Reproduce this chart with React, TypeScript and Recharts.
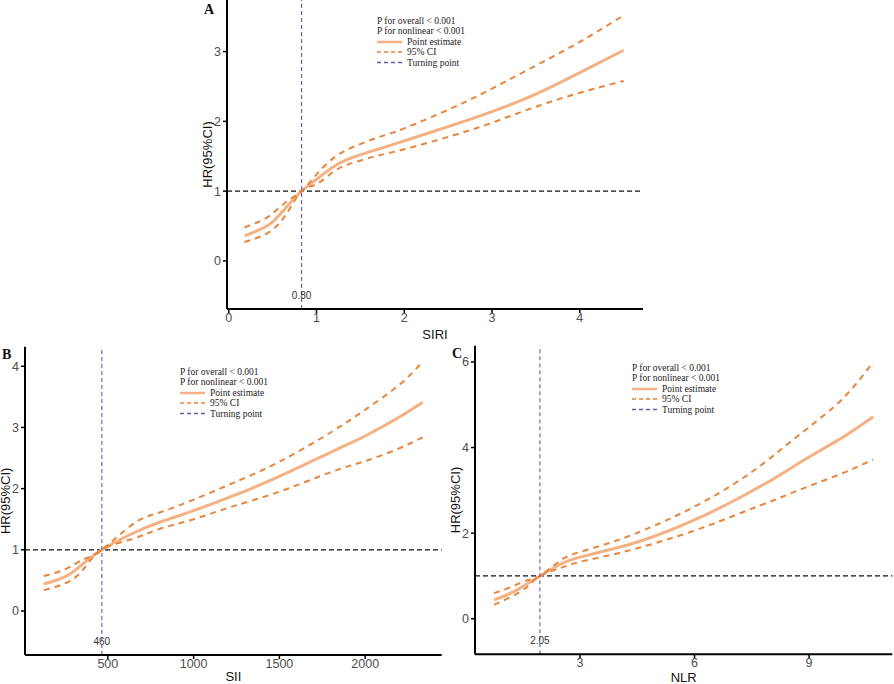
import { LineChart, Line, XAxis, YAxis, ReferenceLine, ReferenceDot } from 'recharts';

const EST_COLOR = '#F4B183';
const CI_COLOR = '#E8853D';
const TURN_COLOR = '#6A5AAE';
const SANS = '"Liberation Sans", Arial, sans-serif';
const SERIF = '"Liberation Serif", "Times New Roman", serif';

// A: SIRI
const siriX = [0.18, 0.3, 0.47, 0.65, 0.83, 1.0, 1.22, 1.45, 1.7, 2.0, 2.56, 3.0, 3.5, 4.0, 4.5];
const siriEst = [0.36, 0.42, 0.53, 0.76, 1.0, 1.17, 1.37, 1.5, 1.6, 1.72, 1.95, 2.14, 2.39, 2.7, 3.02];
const siriUpper = [0.48, 0.54, 0.65, 0.84, 1.0, 1.24, 1.5, 1.65, 1.77, 1.9, 2.2, 2.47, 2.8, 3.14, 3.52];
const siriLower = [0.27, 0.32, 0.42, 0.66, 1.0, 1.1, 1.3, 1.42, 1.51, 1.6, 1.8, 1.98, 2.21, 2.41, 2.58];
const siriXTicks = [0, 1, 2, 3, 4];
const siriYTicks = [0, 1, 2, 3];

// B: SII
const siiX = [127, 258, 354, 465, 646, 801, 1000, 1228, 1500, 1811, 2000, 2200, 2336];
const siiEst = [0.44, 0.57, 0.77, 1.0, 1.27, 1.45, 1.64, 1.88, 2.2, 2.61, 2.86, 3.17, 3.41];
const siiUpper = [0.57, 0.69, 0.84, 1.0, 1.42, 1.61, 1.82, 2.09, 2.44, 2.94, 3.29, 3.7, 4.08];
const siiLower = [0.34, 0.46, 0.67, 1.0, 1.18, 1.34, 1.5, 1.71, 1.95, 2.28, 2.45, 2.66, 2.84];
const siiXTicks = [500, 1000, 1500, 2000];
const siiYTicks = [0, 1, 2, 3, 4];

// C: NLR
const nlrX = [0.75, 1.19, 1.62, 1.95, 2.5, 3.0, 3.8, 4.67, 6.0, 7.29, 8.16, 9.0, 9.9, 10.68];
const nlrEst = [0.44, 0.6, 0.82, 1.0, 1.28, 1.44, 1.62, 1.84, 2.31, 2.88, 3.32, 3.78, 4.25, 4.72];
const nlrUpper = [0.6, 0.74, 0.9, 1.0, 1.37, 1.56, 1.78, 2.07, 2.62, 3.3, 3.88, 4.48, 5.16, 6.0];
const nlrLower = [0.33, 0.51, 0.75, 1.0, 1.19, 1.33, 1.49, 1.69, 2.06, 2.5, 2.8, 3.1, 3.41, 3.72];
const nlrXTicks = [3, 6, 9];
const nlrYTicks = [0, 2, 4, 6];

const legendLines = ['P for overall < 0.001', 'P for nonlinear < 0.001'];
const legendItems = ['Point estimate', '95% CI', 'Turning point'];

const toRows = (xs: number[], est: number[], upper: number[], lower: number[]) =>
	xs.map((x, i) => ({ x, est: est[i], upper: upper[i], lower: lower[i] }));

function PanelLegend({ left, top }: { left: number; top: number }) {
	const ys = [5, 15, 26, 36, 46.5];
	const styles = [
		{ stroke: EST_COLOR, strokeWidth: 2.5, dash: undefined },
		{ stroke: CI_COLOR, strokeWidth: 1.6, dash: '4 3' },
		{ stroke: TURN_COLOR, strokeWidth: 1.4, dash: '4 3' },
	];
	return (
		<svg width={130} height={56} style={{ position: 'absolute', left, top, overflow: 'visible' }}>
			{legendLines.map((t, i) => (
				<text key={t} x={0} y={ys[i]} dominantBaseline="central" fontFamily={SERIF} fontSize={9.5} fill="#222">{t}</text>
			))}
			{legendItems.map((t, i) => (
				<g key={t}>
					<line x1={0} x2={25} y1={ys[i + 2]} y2={ys[i + 2]} stroke={styles[i].stroke} strokeWidth={styles[i].strokeWidth} strokeDasharray={styles[i].dash} />
					<text x={30} y={ys[i + 2]} dominantBaseline="central" fontFamily={SERIF} fontSize={9.5} fill="#222">{t}</text>
				</g>
			))}
		</svg>
	);
}

type TPanel = {
	letter: string;
	letterPos: [number, number];
	rows: Array<{ x: number; est: number; upper: number; lower: number }>;
	xDomain: [number, number];
	yDomain: [number, number];
	xTicks: number[];
	yTicks: number[];
	turn: number;
	turnLabel: string;
	xLabel: string;
	box: { left: number; top: number; width: number; height: number };
	margin: { top: number; right: number; left: number; bottom: number };
	yAxisWidth: number;
	xAxisHeight: number;
	yTitleX: number;
	xTitleY: number;
	legendPos: [number, number];
};

function Panel(p: TPanel) {
	const tickStyle = { fill: '#4D4D4D', fontSize: 12.5, fontFamily: SANS };
	return (
		<div style={{ position: 'absolute', left: p.box.left, top: p.box.top, width: p.box.width, height: p.box.height }}>
			<LineChart width={p.box.width} height={p.box.height} data={p.rows} margin={p.margin}>
				<XAxis
					type="number"
					dataKey="x"
					domain={p.xDomain}
					ticks={p.xTicks}
					interval={0}
					height={p.xAxisHeight}
					tick={tickStyle}
					tickSize={4}
					tickMargin={0}
					axisLine={{ stroke: '#000', strokeWidth: 2 }}
					tickLine={{ stroke: '#000', strokeWidth: 1.5 }}
					label={(lp: any) => {
						const vb = lp.viewBox || {};
						return (
							<text x={vb.x + vb.width / 2} y={p.xTitleY} textAnchor="middle" dominantBaseline="central" fontFamily={SANS} fontSize={13} fill="#111">
								{p.xLabel}
							</text>
						);
					}}
				/>
				<YAxis
					type="number"
					domain={p.yDomain}
					ticks={p.yTicks}
					interval={0}
					width={p.yAxisWidth}
					tick={tickStyle}
					tickSize={4}
					axisLine={{ stroke: '#000', strokeWidth: 2 }}
					tickLine={{ stroke: '#000', strokeWidth: 1.5 }}
					label={(lp: any) => {
						const vb = lp.viewBox || {};
						const cy = vb.y + vb.height / 2;
						return (
							<text x={p.yTitleX} y={cy} transform={`rotate(-90 ${p.yTitleX} ${cy})`} textAnchor="middle" dominantBaseline="central" fontFamily={SANS} fontSize={13} fill="#111">
								HR(95%CI)
							</text>
						);
					}}
				/>
				<ReferenceLine y={1} stroke="#111" strokeWidth={1.3} strokeDasharray="5 3" />
				<Line type="natural" dataKey="est" stroke={EST_COLOR} strokeWidth={3} dot={false} isAnimationActive={false} />
				<Line type="natural" dataKey="upper" stroke={CI_COLOR} strokeWidth={2} strokeDasharray="6 5" dot={false} isAnimationActive={false} />
				<Line type="natural" dataKey="lower" stroke={CI_COLOR} strokeWidth={2} strokeDasharray="6 5" dot={false} isAnimationActive={false} />
				<ReferenceLine x={p.turn} stroke={TURN_COLOR} strokeWidth={1.1} strokeDasharray="4 3" />
				<ReferenceDot
					x={p.turn}
					y={-0.5}
					r={1}
					fill="none"
					stroke="none"
					label={{ value: p.turnLabel, position: 'center', fontSize: 10, fontFamily: SANS, fill: '#333' }}
				/>
			</LineChart>
			<div
				style={{
					position: 'absolute',
					left: p.letterPos[0],
					top: p.letterPos[1],
					fontFamily: SERIF,
					fontWeight: 'bold',
					fontSize: 14,
					lineHeight: '14px',
					color: '#111',
				}}
			>
				{p.letter}
			</div>
			<PanelLegend left={p.legendPos[0]} top={p.legendPos[1]} />
		</div>
	);
}

export default function App() {
	return (
		<div style={{ position: 'absolute', left: 0, top: 0, width: 894, height: 684, background: '#fff', overflow: 'hidden' }}>
			<Panel
				letter="A"
				letterPos={[34, 3]}
				rows={toRows(siriX, siriEst, siriUpper, siriLower)}
				xDomain={[-0.02, 4.72]}
				yDomain={[-0.69, 3.74]}
				xTicks={siriXTicks}
				yTicks={siriYTicks}
				turn={0.83}
				turnLabel="0.80"
				xLabel="SIRI"
				box={{ left: 170, top: 0, width: 480, height: 345 }}
				margin={{ top: 0, right: 7, left: 0, bottom: 0 }}
				yAxisWidth={57}
				xAxisHeight={36}
				yTitleX={37}
				xTitleY={334}
				legendPos={[207, 15.7]}
			/>
			<Panel
				letter="B"
				letterPos={[2, 8]}
				rows={toRows(siiX, siiEst, siiUpper, siiLower)}
				xDomain={[17, 2446]}
				yDomain={[-0.72, 4.32]}
				xTicks={siiXTicks}
				yTicks={siiYTicks}
				turn={465}
				turnLabel="460"
				xLabel="SII"
				box={{ left: 0, top: 340, width: 450, height: 344 }}
				margin={{ top: 6.7, right: 8.3, left: 0, bottom: 0 }}
				yAxisWidth={25}
				xAxisHeight={29}
				yTitleX={6}
				xTitleY={336.5}
				legendPos={[180, 27]}
			/>
			<Panel
				letter="C"
				letterPos={[8, 7]}
				rows={toRows(nlrX, nlrEst, nlrUpper, nlrLower)}
				xDomain={[0.25, 11.18]}
				yDomain={[-0.83, 6.38]}
				xTicks={nlrXTicks}
				yTicks={nlrYTicks}
				turn={1.95}
				turnLabel="2.05"
				xLabel="NLR"
				box={{ left: 444, top: 340, width: 450, height: 344 }}
				margin={{ top: 5.7, right: 1.7, left: 0, bottom: 0 }}
				yAxisWidth={31}
				xAxisHeight={29.7}
				yTitleX={11.7}
				xTitleY={337.5}
				legendPos={[188, 23.3]}
			/>
		</div>
	);
}
